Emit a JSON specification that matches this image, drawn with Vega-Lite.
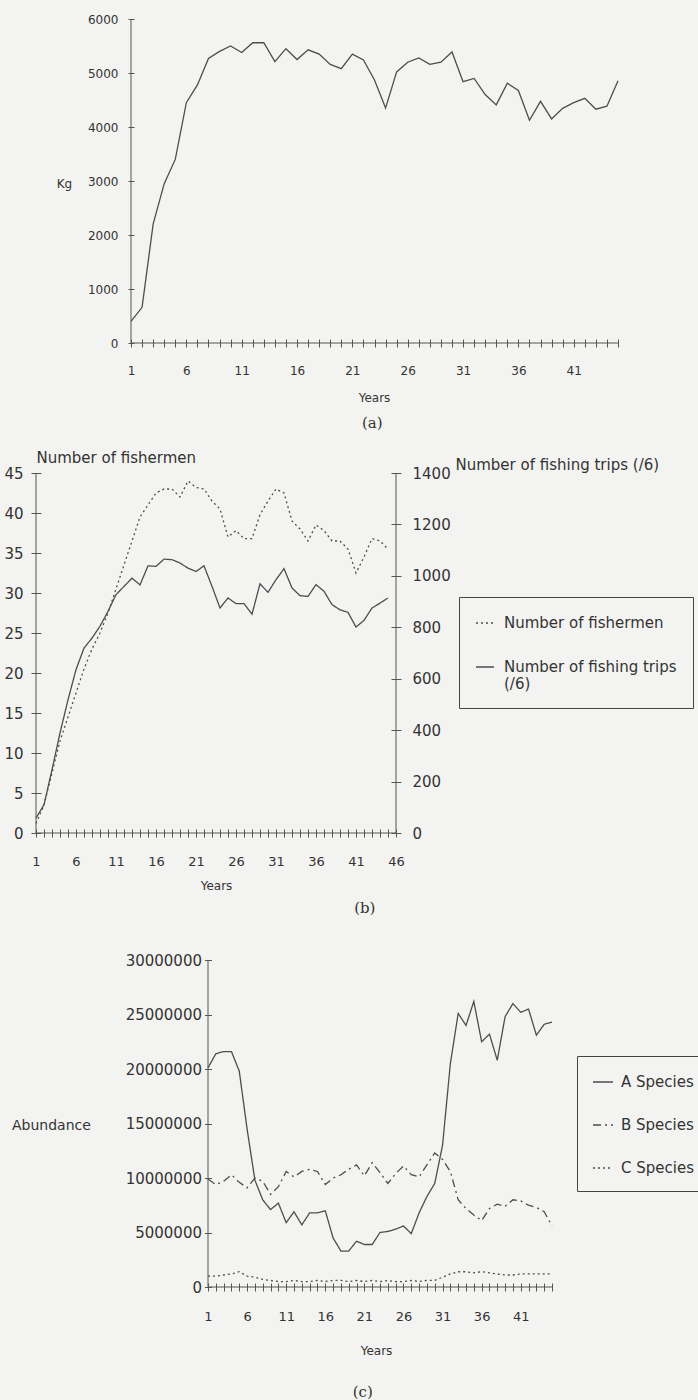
{
"$schema": "https://vega.github.io/schema/vega-lite/v6.json",
"width": 698, "height": 1400, "autosize": "none", "padding": 0,
"background": "#f3f3f1",
"config": {
  "view": {"stroke": null},
  "font": "DejaVu Sans",
  "axis": {"grid": false, "domain": false, "tickColor": "#555555", "tickWidth": 1, "labelColor": "#333333", "titleColor": "#333333", "labelFont": "DejaVu Sans", "titleFont": "DejaVu Sans", "titleFontWeight": "normal", "labelOverlap": false, "labelFlush": false},
  "legend": {"labelFont": "DejaVu Sans"}
},
"datasets": {
  "a": [
    {"year":1,"kg":400},{"year":2,"kg":660},{"year":3,"kg":2200},{"year":4,"kg":2950},{"year":5,"kg":3400},
    {"year":6,"kg":4450},{"year":7,"kg":4780},{"year":8,"kg":5270},{"year":9,"kg":5400},{"year":10,"kg":5500},
    {"year":11,"kg":5380},{"year":12,"kg":5560},{"year":13,"kg":5560},{"year":14,"kg":5210},{"year":15,"kg":5450},
    {"year":16,"kg":5250},{"year":17,"kg":5430},{"year":18,"kg":5350},{"year":19,"kg":5160},{"year":20,"kg":5080},
    {"year":21,"kg":5350},{"year":22,"kg":5240},{"year":23,"kg":4870},{"year":24,"kg":4350},{"year":25,"kg":5020},
    {"year":26,"kg":5200},{"year":27,"kg":5280},{"year":28,"kg":5160},{"year":29,"kg":5200},{"year":30,"kg":5390},
    {"year":31,"kg":4840},{"year":32,"kg":4900},{"year":33,"kg":4600},{"year":34,"kg":4410},{"year":35,"kg":4810},
    {"year":36,"kg":4675},{"year":37,"kg":4125},{"year":38,"kg":4475},{"year":39,"kg":4150},{"year":40,"kg":4345},
    {"year":41,"kg":4450},{"year":42,"kg":4530},{"year":43,"kg":4330},{"year":44,"kg":4385},{"year":45,"kg":4855}
  ],
  "b": [
    {"year":1,"series":"Number of fishermen","value":1.2},{"year":2,"series":"Number of fishermen","value":3.5},{"year":3,"series":"Number of fishermen","value":7.5},{"year":4,"series":"Number of fishermen","value":11.5},{"year":5,"series":"Number of fishermen","value":14.5},
    {"year":6,"series":"Number of fishermen","value":17.5},{"year":7,"series":"Number of fishermen","value":20.5},{"year":8,"series":"Number of fishermen","value":23},{"year":9,"series":"Number of fishermen","value":25},{"year":10,"series":"Number of fishermen","value":27.5},
    {"year":11,"series":"Number of fishermen","value":30.5},{"year":12,"series":"Number of fishermen","value":33.5},{"year":13,"series":"Number of fishermen","value":36.5},{"year":14,"series":"Number of fishermen","value":39.5},{"year":15,"series":"Number of fishermen","value":41},
    {"year":16,"series":"Number of fishermen","value":42.5},{"year":17,"series":"Number of fishermen","value":43},{"year":18,"series":"Number of fishermen","value":43},{"year":19,"series":"Number of fishermen","value":42},{"year":20,"series":"Number of fishermen","value":44},
    {"year":21,"series":"Number of fishermen","value":43.2},{"year":22,"series":"Number of fishermen","value":43},{"year":23,"series":"Number of fishermen","value":41.5},{"year":24,"series":"Number of fishermen","value":40.5},{"year":25,"series":"Number of fishermen","value":37},
    {"year":26,"series":"Number of fishermen","value":37.8},{"year":27,"series":"Number of fishermen","value":36.8},{"year":28,"series":"Number of fishermen","value":36.8},{"year":29,"series":"Number of fishermen","value":39.8},{"year":30,"series":"Number of fishermen","value":41.5},
    {"year":31,"series":"Number of fishermen","value":43},{"year":32,"series":"Number of fishermen","value":42.5},{"year":33,"series":"Number of fishermen","value":39},{"year":34,"series":"Number of fishermen","value":38},{"year":35,"series":"Number of fishermen","value":36.5},
    {"year":36,"series":"Number of fishermen","value":38.5},{"year":37,"series":"Number of fishermen","value":37.8},{"year":38,"series":"Number of fishermen","value":36.5},{"year":39,"series":"Number of fishermen","value":36.5},{"year":40,"series":"Number of fishermen","value":35.5},
    {"year":41,"series":"Number of fishermen","value":32.5},{"year":42,"series":"Number of fishermen","value":34.5},{"year":43,"series":"Number of fishermen","value":36.8},{"year":44,"series":"Number of fishermen","value":36.5},{"year":45,"series":"Number of fishermen","value":35.5},
    {"year":1,"series":"Number of fishing trips (/6)","value":58},{"year":2,"series":"Number of fishing trips (/6)","value":110},{"year":3,"series":"Number of fishing trips (/6)","value":246},{"year":4,"series":"Number of fishing trips (/6)","value":389},{"year":5,"series":"Number of fishing trips (/6)","value":518},
    {"year":6,"series":"Number of fishing trips (/6)","value":635},{"year":7,"series":"Number of fishing trips (/6)","value":719},{"year":8,"series":"Number of fishing trips (/6)","value":758},{"year":9,"series":"Number of fishing trips (/6)","value":804},{"year":10,"series":"Number of fishing trips (/6)","value":862},
    {"year":11,"series":"Number of fishing trips (/6)","value":927},{"year":12,"series":"Number of fishing trips (/6)","value":959},{"year":13,"series":"Number of fishing trips (/6)","value":991},{"year":14,"series":"Number of fishing trips (/6)","value":965},{"year":15,"series":"Number of fishing trips (/6)","value":1039},
    {"year":16,"series":"Number of fishing trips (/6)","value":1037},{"year":17,"series":"Number of fishing trips (/6)","value":1065},{"year":18,"series":"Number of fishing trips (/6)","value":1063},{"year":19,"series":"Number of fishing trips (/6)","value":1050},{"year":20,"series":"Number of fishing trips (/6)","value":1030},
    {"year":21,"series":"Number of fishing trips (/6)","value":1017},{"year":22,"series":"Number of fishing trips (/6)","value":1039},{"year":23,"series":"Number of fishing trips (/6)","value":959},{"year":24,"series":"Number of fishing trips (/6)","value":875},{"year":25,"series":"Number of fishing trips (/6)","value":914},
    {"year":26,"series":"Number of fishing trips (/6)","value":892},{"year":27,"series":"Number of fishing trips (/6)","value":892},{"year":28,"series":"Number of fishing trips (/6)","value":851},{"year":29,"series":"Number of fishing trips (/6)","value":969},{"year":30,"series":"Number of fishing trips (/6)","value":936},
    {"year":31,"series":"Number of fishing trips (/6)","value":985},{"year":32,"series":"Number of fishing trips (/6)","value":1028},{"year":33,"series":"Number of fishing trips (/6)","value":953},{"year":34,"series":"Number of fishing trips (/6)","value":923},{"year":35,"series":"Number of fishing trips (/6)","value":920},
    {"year":36,"series":"Number of fishing trips (/6)","value":966},{"year":37,"series":"Number of fishing trips (/6)","value":940},{"year":38,"series":"Number of fishing trips (/6)","value":888},{"year":39,"series":"Number of fishing trips (/6)","value":868},{"year":40,"series":"Number of fishing trips (/6)","value":858},
    {"year":41,"series":"Number of fishing trips (/6)","value":801},{"year":42,"series":"Number of fishing trips (/6)","value":827},{"year":43,"series":"Number of fishing trips (/6)","value":875},{"year":44,"series":"Number of fishing trips (/6)","value":894},{"year":45,"series":"Number of fishing trips (/6)","value":914}
  ],
  "c": [
    {"year":1,"series":"A Species","abundance":20100000},{"year":2,"series":"A Species","abundance":21400000},{"year":3,"series":"A Species","abundance":21600000},{"year":4,"series":"A Species","abundance":21600000},{"year":5,"series":"A Species","abundance":19800000},
    {"year":6,"series":"A Species","abundance":14500000},{"year":7,"series":"A Species","abundance":9800000},{"year":8,"series":"A Species","abundance":8000000},{"year":9,"series":"A Species","abundance":7100000},{"year":10,"series":"A Species","abundance":7700000},
    {"year":11,"series":"A Species","abundance":5900000},{"year":12,"series":"A Species","abundance":6900000},{"year":13,"series":"A Species","abundance":5700000},{"year":14,"series":"A Species","abundance":6800000},{"year":15,"series":"A Species","abundance":6800000},
    {"year":16,"series":"A Species","abundance":7000000},{"year":17,"series":"A Species","abundance":4500000},{"year":18,"series":"A Species","abundance":3300000},{"year":19,"series":"A Species","abundance":3300000},{"year":20,"series":"A Species","abundance":4200000},
    {"year":21,"series":"A Species","abundance":3900000},{"year":22,"series":"A Species","abundance":3900000},{"year":23,"series":"A Species","abundance":5000000},{"year":24,"series":"A Species","abundance":5100000},{"year":25,"series":"A Species","abundance":5300000},
    {"year":26,"series":"A Species","abundance":5600000},{"year":27,"series":"A Species","abundance":4900000},{"year":28,"series":"A Species","abundance":6800000},{"year":29,"series":"A Species","abundance":8300000},{"year":30,"series":"A Species","abundance":9500000},
    {"year":31,"series":"A Species","abundance":13000000},{"year":32,"series":"A Species","abundance":20500000},{"year":33,"series":"A Species","abundance":25100000},{"year":34,"series":"A Species","abundance":24000000},{"year":35,"series":"A Species","abundance":26200000},
    {"year":36,"series":"A Species","abundance":22500000},{"year":37,"series":"A Species","abundance":23200000},{"year":38,"series":"A Species","abundance":20800000},{"year":39,"series":"A Species","abundance":24800000},{"year":40,"series":"A Species","abundance":26000000},
    {"year":41,"series":"A Species","abundance":25200000},{"year":42,"series":"A Species","abundance":25500000},{"year":43,"series":"A Species","abundance":23100000},{"year":44,"series":"A Species","abundance":24100000},{"year":45,"series":"A Species","abundance":24300000},
    {"year":1,"series":"B Species","abundance":9900000},{"year":2,"series":"B Species","abundance":9400000},{"year":3,"series":"B Species","abundance":9700000},{"year":4,"series":"B Species","abundance":10300000},{"year":5,"series":"B Species","abundance":9600000},
    {"year":6,"series":"B Species","abundance":9100000},{"year":7,"series":"B Species","abundance":10000000},{"year":8,"series":"B Species","abundance":9700000},{"year":9,"series":"B Species","abundance":8500000},{"year":10,"series":"B Species","abundance":9200000},
    {"year":11,"series":"B Species","abundance":10600000},{"year":12,"series":"B Species","abundance":10100000},{"year":13,"series":"B Species","abundance":10600000},{"year":14,"series":"B Species","abundance":10800000},{"year":15,"series":"B Species","abundance":10600000},
    {"year":16,"series":"B Species","abundance":9400000},{"year":17,"series":"B Species","abundance":10000000},{"year":18,"series":"B Species","abundance":10300000},{"year":19,"series":"B Species","abundance":10800000},{"year":20,"series":"B Species","abundance":11200000},
    {"year":21,"series":"B Species","abundance":10200000},{"year":22,"series":"B Species","abundance":11400000},{"year":23,"series":"B Species","abundance":10500000},{"year":24,"series":"B Species","abundance":9500000},{"year":25,"series":"B Species","abundance":10400000},
    {"year":26,"series":"B Species","abundance":11100000},{"year":27,"series":"B Species","abundance":10300000},{"year":28,"series":"B Species","abundance":10100000},{"year":29,"series":"B Species","abundance":11200000},{"year":30,"series":"B Species","abundance":12300000},
    {"year":31,"series":"B Species","abundance":11700000},{"year":32,"series":"B Species","abundance":10600000},{"year":33,"series":"B Species","abundance":8000000},{"year":34,"series":"B Species","abundance":7200000},{"year":35,"series":"B Species","abundance":6600000},
    {"year":36,"series":"B Species","abundance":6100000},{"year":37,"series":"B Species","abundance":7200000},{"year":38,"series":"B Species","abundance":7600000},{"year":39,"series":"B Species","abundance":7400000},{"year":40,"series":"B Species","abundance":8000000},
    {"year":41,"series":"B Species","abundance":7900000},{"year":42,"series":"B Species","abundance":7500000},{"year":43,"series":"B Species","abundance":7300000},{"year":44,"series":"B Species","abundance":6900000},{"year":45,"series":"B Species","abundance":5600000},
    {"year":1,"series":"C Species","abundance":1000000},{"year":2,"series":"C Species","abundance":1000000},{"year":3,"series":"C Species","abundance":1100000},{"year":4,"series":"C Species","abundance":1200000},{"year":5,"series":"C Species","abundance":1400000},
    {"year":6,"series":"C Species","abundance":1000000},{"year":7,"series":"C Species","abundance":900000},{"year":8,"series":"C Species","abundance":700000},{"year":9,"series":"C Species","abundance":600000},{"year":10,"series":"C Species","abundance":500000},
    {"year":11,"series":"C Species","abundance":500000},{"year":12,"series":"C Species","abundance":600000},{"year":13,"series":"C Species","abundance":500000},{"year":14,"series":"C Species","abundance":500000},{"year":15,"series":"C Species","abundance":600000},
    {"year":16,"series":"C Species","abundance":500000},{"year":17,"series":"C Species","abundance":600000},{"year":18,"series":"C Species","abundance":600000},{"year":19,"series":"C Species","abundance":500000},{"year":20,"series":"C Species","abundance":600000},
    {"year":21,"series":"C Species","abundance":500000},{"year":22,"series":"C Species","abundance":600000},{"year":23,"series":"C Species","abundance":500000},{"year":24,"series":"C Species","abundance":600000},{"year":25,"series":"C Species","abundance":500000},
    {"year":26,"series":"C Species","abundance":500000},{"year":27,"series":"C Species","abundance":600000},{"year":28,"series":"C Species","abundance":500000},{"year":29,"series":"C Species","abundance":600000},{"year":30,"series":"C Species","abundance":600000},
    {"year":31,"series":"C Species","abundance":900000},{"year":32,"series":"C Species","abundance":1200000},{"year":33,"series":"C Species","abundance":1400000},{"year":34,"series":"C Species","abundance":1400000},{"year":35,"series":"C Species","abundance":1300000},
    {"year":36,"series":"C Species","abundance":1400000},{"year":37,"series":"C Species","abundance":1300000},{"year":38,"series":"C Species","abundance":1200000},{"year":39,"series":"C Species","abundance":1100000},{"year":40,"series":"C Species","abundance":1100000},
    {"year":41,"series":"C Species","abundance":1200000},{"year":42,"series":"C Species","abundance":1200000},{"year":43,"series":"C Species","abundance":1200000},{"year":44,"series":"C Species","abundance":1200000},{"year":45,"series":"C Species","abundance":1200000}
  ]
},
"layer": [
  {
    "data": {"name": "a"},
    "mark": {"type": "line", "color": "#4d4d4d", "strokeWidth": 1.3},
    "encoding": {
      "x": {"field": "year", "type": "quantitative",
        "scale": {"domain": [1, 45], "range": [131, 618], "nice": false, "zero": false},
        "axis": {"orient": "bottom", "offset": -1061, "values": [1,2,3,4,5,6,7,8,9,10,11,12,13,14,15,16,17,18,19,20,21,22,23,24,25,26,27,28,29,30,31,32,33,34,35,36,37,38,39,40,41,42,43,44,45],
          "tickSize": 8, "labelOverlap": false, "labelExpr": "(datum.value - 1) % 5 == 0 ? datum.label : ''", "labelPadding": 18, "labelFontSize": 12,
          "title": "Years", "titleFontSize": 12, "titleX": 374, "titleY": 58, "titleBaseline": "middle", "titleAlign": "center"}},
      "y": {"field": "kg", "type": "quantitative",
        "scale": {"domain": [0, 6000], "range": [343, 19], "nice": false, "zero": false},
        "axis": {"orient": "left", "offset": -134, "values": [0,1000,2000,3000,4000,5000,6000], "format": "d", "tickSize": 6, "labelPadding": 10, "labelFontSize": 12, "labelOverlap": false,
          "title": "Kg", "titleAngle": 0, "titleX": -70, "titleY": 183, "titleAlign": "center", "titleBaseline": "middle", "titleFontSize": 12}}
    }
  },
  {
    "data": {"values": [{"caption": "(a)"}]},
    "layer": [
      {"mark": {"type": "rule", "color": "#555555"},
        "encoding": {"x": {"datum": 1, "type": "quantitative", "scale": {"domain": [1, 45], "range": [131, 618], "nice": false, "zero": false}, "axis": null},
          "y": {"datum": 0, "type": "quantitative", "scale": {"domain": [0, 6000], "range": [343, 19], "nice": false, "zero": false}, "axis": null}, "y2": {"datum": 6000}}},
      {"mark": {"type": "rule", "color": "#555555"},
        "encoding": {"x": {"datum": 1, "type": "quantitative", "axis": null}, "x2": {"datum": 45}, "y": {"datum": 0, "type": "quantitative", "axis": null}}},
      {"mark": {"type": "text", "font": "DejaVu Serif", "fontSize": 15, "color": "#333333", "align": "center", "baseline": "middle"},
        "encoding": {"x": {"datum": 22.8, "type": "quantitative", "axis": null}, "y": {"datum": -1480, "type": "quantitative", "axis": null}, "text": {"field": "caption"}}}
    ]
  },
  {
    "data": {"name": "b"},
    "layer": [
      {
        "transform": [{"filter": "datum.series == 'Number of fishermen'"}],
        "mark": {"type": "line", "color": "#4d4d4d", "strokeWidth": 1.3},
        "encoding": {
          "x": {"field": "year", "type": "quantitative",
            "scale": {"domain": [1, 46], "range": [36, 396], "nice": false, "zero": false},
            "axis": {"orient": "bottom", "offset": -571, "values": [1,2,3,4,5,6,7,8,9,10,11,12,13,14,15,16,17,18,19,20,21,22,23,24,25,26,27,28,29,30,31,32,33,34,35,36,37,38,39,40,41,42,43,44,45,46],
              "tickSize": 8, "labelOverlap": false, "labelExpr": "(datum.value - 1) % 5 == 0 ? datum.label : ''", "labelPadding": 18, "labelFontSize": 13,
              "title": "Years", "titleFontSize": 12, "titleX": 216, "titleY": 56, "titleBaseline": "middle", "titleAlign": "center"}},
          "y": {"field": "value", "type": "quantitative",
            "scale": {"domain": [0, 45], "range": [833, 473], "nice": false, "zero": false},
            "axis": {"orient": "left", "offset": -41, "values": [0,5,10,15,20,25,30,35,40,45], "format": "d", "tickSize": 10, "labelPadding": 8, "labelFontSize": 15, "labelOverlap": false,
              "title": "Number of fishermen", "titleAngle": 0, "titleX": -5, "titleY": 457, "titleAlign": "left", "titleBaseline": "middle", "titleFontSize": 15}},
          "strokeDash": {"field": "series", "type": "nominal",
            "scale": {"domain": ["Number of fishermen", "Number of fishing trips (/6)"], "range": [[2, 3], [1, 0]]},
            "legend": {"orient": "none", "legendX": 459, "legendY": 597, "title": null, "strokeColor": "#444444", "padding": 16,
              "symbolType": "stroke", "symbolSize": 324, "symbolStrokeWidth": 1.3, "symbolStrokeColor": "#4d4d4d",
              "labelFontSize": 15, "labelOffset": 9, "rowPadding": 26, "labelLimit": 400, "labelColor": "#333333",
              "labelExpr": "datum.label == 'Number of fishing trips (/6)' ? ['Number of fishing trips', '(/6)'] : datum.label"}}
        }
      },
      {
        "transform": [{"filter": "datum.series == 'Number of fishing trips (/6)'"}],
        "mark": {"type": "line", "color": "#4d4d4d", "strokeWidth": 1.3},
        "encoding": {
          "x": {"field": "year", "type": "quantitative",
            "scale": {"domain": [1, 46], "range": [36, 396], "nice": false, "zero": false},
            "axis": {"orient": "bottom", "offset": -571, "values": [1,2,3,4,5,6,7,8,9,10,11,12,13,14,15,16,17,18,19,20,21,22,23,24,25,26,27,28,29,30,31,32,33,34,35,36,37,38,39,40,41,42,43,44,45,46],
              "tickSize": 8, "labelOverlap": false, "labelExpr": "(datum.value - 1) % 5 == 0 ? datum.label : ''", "labelPadding": 18, "labelFontSize": 13,
              "title": "Years", "titleFontSize": 12, "titleX": 216, "titleY": 56, "titleBaseline": "middle", "titleAlign": "center"}},
          "y": {"field": "value", "type": "quantitative",
            "scale": {"domain": [0, 1400], "range": [833, 473], "nice": false, "zero": false},
            "axis": {"orient": "right", "offset": -307, "values": [0,200,400,600,800,1000,1200,1400], "format": "d", "tickSize": 10, "labelPadding": 11, "labelFontSize": 15, "labelOverlap": false,
              "title": "Number of fishing trips (/6)", "titleAngle": 0, "titleX": 64, "titleY": 464, "titleAlign": "left", "titleBaseline": "middle", "titleFontSize": 15}},
          "strokeDash": {"field": "series", "type": "nominal",
            "scale": {"domain": ["Number of fishermen", "Number of fishing trips (/6)"], "range": [[2, 3], [1, 0]]}}
        }
      }
    ],
    "resolve": {"scale": {"y": "independent"}, "axis": {"y": "independent"}}
  },
  {
    "data": {"values": [{"caption": "(b)"}]},
    "layer": [
      {"mark": {"type": "rule", "color": "#555555"},
        "encoding": {"x": {"datum": 1, "type": "quantitative", "scale": {"domain": [1, 46], "range": [36, 396], "nice": false, "zero": false}, "axis": null},
          "y": {"datum": 0, "type": "quantitative", "scale": {"domain": [0, 45], "range": [833, 473], "nice": false, "zero": false}, "axis": null}, "y2": {"datum": 45}}},
      {"mark": {"type": "rule", "color": "#555555"},
        "encoding": {"x": {"datum": 1, "type": "quantitative", "axis": null}, "x2": {"datum": 46}, "y": {"datum": 0, "type": "quantitative", "axis": null}}},
      {"mark": {"type": "rule", "color": "#555555"},
        "encoding": {"x": {"datum": 46, "type": "quantitative", "axis": null}, "y": {"datum": 0, "type": "quantitative", "axis": null}, "y2": {"datum": 45}}},
      {"mark": {"type": "text", "font": "DejaVu Serif", "fontSize": 15, "color": "#333333", "align": "center", "baseline": "middle"},
        "encoding": {"x": {"datum": 42.1, "type": "quantitative", "axis": null}, "y": {"datum": -9.4, "type": "quantitative", "axis": null}, "text": {"field": "caption"}}}
    ]
  },
  {
    "data": {"name": "c"},
    "mark": {"type": "line", "color": "#4d4d4d", "strokeWidth": 1.3},
    "encoding": {
      "x": {"field": "year", "type": "quantitative",
        "scale": {"domain": [1, 45], "range": [208, 552], "nice": false, "zero": false},
        "axis": {"orient": "bottom", "offset": -117, "values": [1,2,3,4,5,6,7,8,9,10,11,12,13,14,15,16,17,18,19,20,21,22,23,24,25,26,27,28,29,30,31,32,33,34,35,36,37,38,39,40,41,42,43,44,45],
          "tickSize": 8, "labelOverlap": false, "labelExpr": "(datum.value - 1) % 5 == 0 ? datum.label : ''", "labelPadding": 19, "labelFontSize": 13,
          "title": "Years", "titleFontSize": 12, "titleX": 376, "titleY": 67, "titleBaseline": "middle", "titleAlign": "center"}},
      "y": {"field": "abundance", "type": "quantitative",
        "scale": {"domain": [0, 30000000], "range": [1287, 960], "nice": false, "zero": false},
        "axis": {"orient": "left", "offset": -211.5, "values": [0,5000000,10000000,15000000,20000000,25000000,30000000], "format": "d", "tickSize": 7, "labelPadding": 3, "labelFontSize": 15, "labelOverlap": false,
          "title": "Abundance", "titleAngle": 0, "titleX": -200, "titleY": 1125, "titleAlign": "left", "titleBaseline": "middle", "titleFontSize": 14}},
      "strokeDash": {"field": "series", "type": "nominal",
        "scale": {"domain": ["A Species", "B Species", "C Species"], "range": [[1, 0], [8, 4, 2, 4], [2, 3]]},
        "legend": {"orient": "none", "legendX": 577, "legendY": 1056, "title": null, "strokeColor": "#444444", "padding": 15,
          "symbolType": "stroke", "symbolSize": 400, "symbolStrokeWidth": 1.3, "symbolStrokeColor": "#4d4d4d",
          "labelFontSize": 15, "labelOffset": 7, "rowPadding": 24, "labelColor": "#333333"}}
    }
  },
  {
    "data": {"values": [{"caption": "(c)"}]},
    "layer": [
      {"mark": {"type": "rule", "color": "#555555"},
        "encoding": {"x": {"datum": 1, "type": "quantitative", "scale": {"domain": [1, 45], "range": [208, 552], "nice": false, "zero": false}, "axis": null},
          "y": {"datum": 0, "type": "quantitative", "scale": {"domain": [0, 30000000], "range": [1287, 960], "nice": false, "zero": false}, "axis": null}, "y2": {"datum": 30000000}}},
      {"mark": {"type": "rule", "color": "#555555"},
        "encoding": {"x": {"datum": 1, "type": "quantitative", "axis": null}, "x2": {"datum": 45}, "y": {"datum": 0, "type": "quantitative", "axis": null}}},
      {"mark": {"type": "text", "font": "DejaVu Serif", "fontSize": 15, "color": "#333333", "align": "center", "baseline": "middle"},
        "encoding": {"x": {"datum": 20.8, "type": "quantitative", "axis": null}, "y": {"datum": -9630000, "type": "quantitative", "axis": null}, "text": {"field": "caption"}}}
    ]
  }
],
"resolve": {"scale": {"x": "independent", "y": "independent", "strokeDash": "independent"}, "axis": {"x": "independent", "y": "independent"}, "legend": {"strokeDash": "independent"}}
}
